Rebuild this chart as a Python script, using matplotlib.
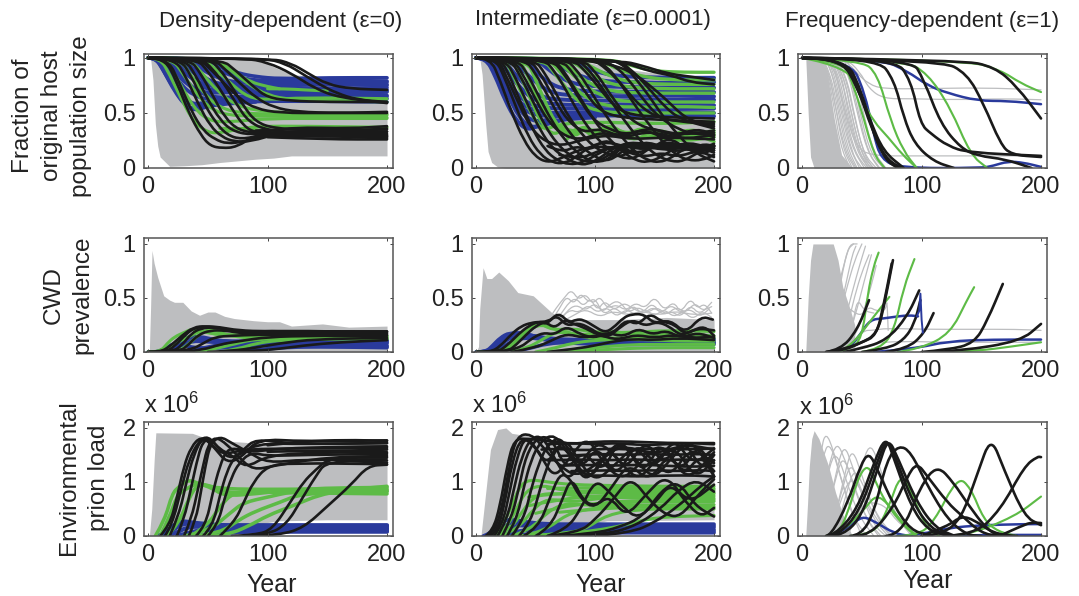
import matplotlib
matplotlib.use("Agg")
import matplotlib.pyplot as plt
from matplotlib.path import Path
from matplotlib.patches import PathPatch

plt.rcParams['font.family'] = ['Liberation Sans', 'DejaVu Sans']
plt.rcParams['mathtext.default'] = 'regular'

W, H = 1079, 596
GREY, BLUE, GREEN, BLACK = '#bdbec0', '#2a3a9c', '#5dbb46', '#1a1a1a'

XTICKS = [0, 100, 200]
YTICKS_FRAC = [0, 0.5, 1]
YTICKS_LOAD = [0, 1, 2]
TITLES = ['Density-dependent (ε=0)', 'Intermediate (ε=0.0001)', 'Frequency-dependent (ε=1)']
ROW_LABELS = ['Fraction of\noriginal host\npopulation size', 'CWD\nprevalence', 'Environmental\nprion load']

# === row 1: host population ===
GX_11 = [2, 4, 6, 8, 10, 18, 30, 45, 60, 80, 90, 105, 120, 150, 200]
GH_11 = [1, 1, 1, 1, 1, 1, 1, 1, 1, 1, 1, .92, .85, .82, .8]
GL_11 = [1, .8, .4, .2, .1, .015, .02, .03, .05, .07, .08, .09, .11, .11, .11]
BL_11 = [
    ([0, 6, 12, 20, 30, 38, 50, 70, 120, 200], [1, 1, .9, .75, .58, .52, .56, .6, .61, .6]),
    ([0, 8, 14, 24, 34, 44, 60, 90, 150, 200], [1, 1, .92, .74, .6, .56, .6, .62, .64, .63]),
    ([0, 10, 18, 28, 38, 50, 70, 110, 200], [1, 1, .9, .75, .66, .62, .65, .66, .65]),
    ([0, 12, 22, 32, 44, 60, 85, 130, 200], [1, 1, .88, .76, .69, .68, .7, .71, .7]),
    ([0, 16, 26, 38, 52, 70, 100, 150, 200], [1, 1, .9, .8, .74, .72, .73, .72, .73]),
    ([0, 22, 32, 46, 60, 80, 110, 160, 200], [1, 1, .92, .82, .76, .74, .75, .76, .75]),
    ([0, 30, 40, 52, 66, 85, 120, 170, 200], [1, 1, .93, .85, .79, .77, .78, .77, .78]),
    ([0, 38, 50, 64, 80, 100, 140, 200], [1, 1, .93, .86, .81, .79, .8, .79]),
    ([0, 46, 60, 76, 90, 110, 150, 200], [1, 1, .92, .86, .83, .81, .82, .82]),
    ([0, 28, 40, 56, 75, 100, 150, 200], [1, 1, .88, .76, .68, .66, .67, .66]),
    ([0, 24, 36, 50, 70, 100, 150, 200], [1, 1, .88, .76, .7, .69, .68, .69]),
    ([0, 50, 66, 80, 100, 130, 200], [1, 1, .88, .78, .76, .76, .76]),
    ([0, 7, 14, 22, 30, 36, 44, 60, 90], [1, 1, .86, .7, .58, .54, .55, .58, .6]),
    ([0, 9, 16, 24, 32, 40, 50, 70, 100], [1, 1, .88, .72, .6, .58, .6, .64, .64]),
    ([0, 14, 22, 30, 38, 48, 60, 90], [1, 1, .92, .82, .72, .66, .64, .63]),
    ([0, 18, 26, 34, 44, 56, 80], [1, 1, .94, .84, .74, .7, .69]),
    ([0, 34, 44, 56, 70, 90, 140, 200], [1, 1, .94, .84, .76, .72, .71, .71]),
]
GR_11 = [
    ([0, 10, 18, 28, 38, 50, 62, 78, 95, 130, 200], [1, 1, .85, .62, .42, .32, .32, .36, .38, .38, .37]),
    ([0, 14, 22, 32, 42, 54, 70, 100, 150, 200], [1, 1, .86, .66, .5, .42, .42, .45, .45, .45]),
    ([0, 20, 30, 40, 52, 66, 90, 130, 200], [1, 1, .84, .68, .54, .48, .47, .47, .46]),
    ([0, 26, 36, 48, 60, 76, 100, 150, 200], [1, 1, .84, .66, .55, .5, .49, .48, .48]),
    ([0, 34, 46, 58, 72, 90, 120, 170, 200], [1, 1, .85, .7, .58, .52, .5, .49, .49]),
    ([0, 46, 58, 70, 84, 100, 130, 200], [1, 1, .88, .76, .64, .62, .64, .63]),
    ([0, 56, 70, 84, 100, 120, 160, 200], [1, 1, .88, .76, .66, .62, .61, .6]),
    ([100, 115, 130, 150], [.72, .72, .71, .7]),
    ([0, 52, 62, 74, 86, 100, 110], [1, 1, .94, .86, .78, .74, .72]),
    ([60, 75, 90, 100, 115], [.36, .36, .35, .33, .36]),
]
BK_11 = [
    ([0, 14, 24, 34, 44, 52, 62, 74, 90, 110, 200], [1, 1, .78, .5, .3, .2, .18, .19, .3, .32, .3]),
    ([0, 16, 26, 36, 46, 56, 66, 80, 100, 140, 200], [1, 1, .78, .52, .34, .26, .22, .24, .3, .29, .28]),
    ([0, 22, 32, 42, 52, 62, 72, 86, 110, 150, 200], [1, 1, .82, .58, .38, .28, .24, .24, .32, .31, .33]),
    ([0, 26, 36, 46, 56, 66, 78, 95, 130, 200], [1, 1, .84, .6, .42, .3, .26, .3, .34, .35]),
    ([0, 30, 40, 50, 60, 70, 85, 105, 150, 200], [1, 1, .84, .62, .44, .34, .3, .33, .32, .36]),
    ([0, 34, 44, 54, 64, 76, 92, 120, 170, 200], [1, 1, .86, .66, .46, .34, .32, .37, .36, .38]),
    ([0, 40, 50, 60, 70, 80, 90, 110, 150, 200], [1, 1, .88, .72, .54, .38, .32, .31, .29, .27]),
    ([0, 44, 54, 64, 74, 84, 100, 140, 200], [1, 1, .9, .76, .58, .42, .34, .3, .29]),
    ([0, 50, 60, 70, 80, 90, 105, 140, 200], [1, 1, .9, .74, .56, .42, .36, .34, .33]),
    ([0, 42, 54, 66, 78, 90, 110, 150, 200], [1, 1, .88, .74, .62, .54, .5, .5, .5]),
    ([0, 54, 66, 78, 90, 105, 125, 160, 200], [1, 1, .88, .76, .64, .55, .51, .5, .51]),
    ([0, 96, 115, 130, 145, 158, 175, 200], [1, 1, .95, .85, .75, .68, .62, .6]),
    ([0, 102, 120, 134, 150, 170, 200], [1, 1, .95, .86, .76, .72, .71]),
    ([0, 80, 100, 120, 140, 160, 200], [1, 1, .96, .86, .72, .64, .59]),
    ([0, 60, 74, 88, 100, 120, 150, 200], [1, 1, .88, .74, .64, .61, .6, .6]),
    ([100, 140, 170, 200], [.3, .28, .3, .29]),
    ([90, 130, 165, 200], [.34, .36, .33, .31]),
    ([100, 150, 200], [.28, .26, .26]),
]

GX_12 = [3, 5, 8, 10, 13, 18, 25, 80, 110, 160, 200]
GH_12 = [1, 1, 1, 1, 1, 1, 1, 1, .92, .85, .82]
GL_12 = [1, .85, .4, .15, .05, .01, 0, 0, 0, 0, 0]
BL_12 = [
    ([0, 10, 18, 28, 40, 55, 75, 110, 150, 200], [1, 1, .85, .65, .52, .47, .47, .48, .47, .47]),
    ([0, 12, 20, 30, 42, 58, 80, 120, 160, 200], [1, 1, .85, .66, .55, .5, .5, .51, .5, .5]),
    ([0, 14, 22, 32, 44, 60, 85, 130, 200], [1, 1, .86, .7, .58, .54, .54, .53, .54]),
    ([0, 18, 26, 36, 48, 62, 90, 140, 200], [1, 1, .88, .74, .62, .58, .57, .58, .57]),
    ([0, 22, 32, 44, 56, 70, 100, 150, 200], [1, 1, .86, .72, .64, .62, .61, .62, .62]),
    ([0, 30, 40, 52, 64, 80, 110, 160, 200], [1, 1, .88, .76, .68, .66, .65, .66, .65]),
    ([0, 40, 50, 60, 72, 88, 120, 170, 200], [1, 1, .88, .78, .72, .7, .69, .7, .69]),
    ([0, 50, 62, 74, 88, 110, 150, 200], [1, 1, .88, .8, .75, .74, .73, .73]),
    ([0, 60, 74, 88, 105, 130, 170, 200], [1, 1, .9, .83, .79, .78, .77, .78]),
    ([0, 74, 90, 105, 125, 160, 200], [1, 1, .92, .86, .83, .82, .82]),
    ([0, 8, 16, 24, 34, 44, 54, 70, 100], [1, 1, .84, .62, .42, .34, .4, .44, .46]),
    ([0, 11, 18, 26, 36, 46, 60, 80], [1, 1, .88, .68, .46, .36, .4, .46]),
    ([0, 16, 24, 34, 44, 56, 70], [1, 1, .82, .56, .44, .42, .48]),
]
GR_12 = [
    ([0, 30, 38, 46, 54, 64, 72, 84, 92, 104, 116, 130, 150, 170, 200], [1, 1, .82, .62, .42, .3, .34, .28, .38, .28, .34, .25, .3, .24, .28]),
    ([0, 36, 44, 52, 60, 70, 80, 90, 100, 112, 124, 140, 160, 180, 200], [1, 1, .82, .62, .46, .36, .28, .36, .3, .38, .26, .34, .28, .36, .3]),
    ([0, 42, 50, 58, 66, 76, 88, 100, 115, 130, 150, 170, 200], [1, 1, .8, .6, .42, .3, .38, .26, .36, .3, .36, .27, .34]),
    ([0, 24, 32, 40, 48, 56, 70, 100, 150, 200], [1, 1, .82, .64, .46, .34, .4, .42, .4, .42]),
    ([0, 56, 66, 76, 86, 100, 120, 150, 200], [1, 1, .86, .72, .6, .52, .5, .5, .5]),
    ([0, 60, 70, 80, 92, 106, 130, 170, 200], [1, 1, .88, .76, .64, .57, .55, .56, .55]),
    ([0, 66, 78, 90, 104, 124, 160, 200], [1, 1, .88, .76, .66, .6, .6, .6]),
    ([0, 70, 82, 96, 112, 135, 170, 200], [1, 1, .88, .76, .7, .68, .68, .68]),
    ([0, 76, 90, 104, 122, 150, 200], [1, 1, .9, .8, .74, .72, .72]),
    ([0, 84, 100, 116, 134, 165, 200], [1, 1, .9, .82, .77, .76, .76]),
    ([0, 100, 118, 136, 160, 200], [1, 1, .9, .84, .8, .8]),
    ([0, 110, 130, 150, 175, 200], [1, 1, .93, .88, .87, .87]),
    ([70, 82, 94, 106, 120, 134, 150, 166, 186, 200], [.38, .32, .36, .28, .34, .24, .36, .3, .26, .32]),
    ([76, 88, 100, 112, 126, 142, 156, 176, 200], [.26, .4, .32, .4, .3, .38, .24, .34, .24]),
]
BK_12 = [
    ([0, 12, 20, 30, 40, 50, 60, 70, 85, 100, 120, 140, 160, 180, 200], [1, 1, .8, .5, .25, .1, .05, .08, .16, .2, .18, .2, .16, .2, .18]),
    ([0, 16, 24, 34, 44, 54, 64, 74, 84, 96, 110, 130, 150, 170, 200], [1, 1, .82, .54, .28, .12, .05, .04, .1, .2, .24, .18, .22, .17, .2]),
    ([0, 20, 28, 38, 48, 58, 68, 78, 90, 104, 120, 140, 165, 185, 200], [1, 1, .84, .58, .34, .16, .07, .03, .05, .14, .22, .16, .22, .14, .2]),
    ([0, 24, 34, 44, 54, 64, 74, 84, 94, 104, 118, 134, 150, 170, 190, 200], [1, 1, .8, .56, .34, .18, .1, .04, .03, .09, .2, .24, .18, .22, .15, .18]),
    ([0, 28, 38, 48, 58, 68, 78, 88, 98, 110, 122, 140, 160, 180, 200], [1, 1, .82, .6, .38, .22, .12, .07, .05, .1, .2, .22, .16, .22, .14]),
    ([0, 34, 44, 54, 64, 74, 84, 94, 104, 114, 126, 145, 165, 185, 200], [1, 1, .84, .62, .42, .26, .15, .07, .05, .1, .22, .18, .22, .14, .2]),
    ([0, 40, 50, 60, 70, 80, 90, 100, 110, 120, 132, 150, 170, 190, 200], [1, 1, .86, .66, .46, .3, .18, .1, .06, .12, .24, .2, .14, .22, .2]),
    ([0, 48, 58, 68, 78, 88, 98, 108, 118, 128, 140, 160, 180, 200], [1, 1, .86, .66, .46, .32, .2, .14, .1, .13, .25, .18, .24, .16]),
    ([0, 56, 66, 76, 86, 96, 106, 116, 126, 136, 148, 165, 185, 200], [1, 1, .88, .7, .5, .34, .22, .13, .08, .1, .2, .24, .16, .22]),
    ([0, 64, 74, 84, 94, 104, 114, 124, 134, 144, 156, 172, 190, 200], [1, 1, .88, .7, .52, .36, .24, .14, .07, .05, .1, .22, .14, .2]),
    ([0, 74, 84, 94, 104, 114, 124, 134, 144, 154, 164, 178, 200], [1, 1, .9, .74, .56, .4, .26, .14, .07, .05, .09, .2, .16]),
    ([0, 84, 94, 104, 114, 124, 134, 144, 154, 164, 174, 188, 200], [1, 1, .9, .76, .6, .44, .3, .18, .1, .06, .06, .15, .2]),
    ([0, 94, 108, 118, 128, 138, 148, 158, 168, 178, 190, 200], [1, 1, .94, .82, .66, .5, .36, .22, .12, .07, .07, .12]),
    ([0, 110, 125, 135, 145, 155, 165, 175, 185, 200], [1, 1, .93, .8, .66, .5, .36, .24, .13, .06]),
    ([0, 90, 110, 130, 145, 160, 175, 190, 200], [1, .99, .95, .88, .76, .62, .46, .4, .38]),
    ([0, 104, 125, 145, 165, 180, 200], [1, .99, .96, .88, .84, .78, .76]),
    ([0, 120, 140, 160, 180, 200], [1, .98, .93, .86, .83, .8]),
    ([0, 70, 82, 92, 104, 120, 150, 200], [1, 1, .86, .68, .52, .46, .44, .42]),
    ([0, 80, 92, 104, 116, 130, 160, 200], [1, 1, .88, .72, .56, .48, .46, .45]),
    ([0, 96, 110, 124, 136, 150, 170, 200], [1, 1, .9, .74, .58, .47, .42, .4]),
    ([0, 116, 130, 144, 158, 172, 200], [1, 1, .9, .74, .56, .44, .36]),
    ([60, 72, 84, 96, 108, 120, 134, 148, 162, 176, 190, 200], [.2, .14, .2, .16, .26, .2, .13, .18, .28, .18, .12, .18]),
    ([70, 86, 100, 114, 128, 142, 156, 170, 186, 200], [.12, .08, .14, .2, .14, .1, .14, .1, .16, .1]),
    ([0, 18, 26, 36, 46, 58, 72, 90, 110, 130, 160, 200], [1, 1, .82, .58, .36, .24, .2, .26, .3, .26, .28, .26]),
    ([0, 30, 40, 50, 62, 76, 90, 106, 124, 146, 172, 200], [1, 1, .84, .62, .4, .28, .26, .33, .27, .34, .26, .3]),
    ([0, 44, 54, 64, 76, 90, 104, 122, 140, 160, 182, 200], [1, 1, .86, .66, .44, .32, .36, .28, .36, .26, .34, .28]),
    ([0, 62, 74, 86, 98, 112, 128, 146, 166, 186, 200], [1, 1, .86, .64, .44, .35, .3, .37, .29, .36, .3]),
    ([0, 88, 100, 112, 124, 138, 154, 174, 200], [1, 1, .88, .68, .5, .38, .34, .3, .34]),
    ([0, 102, 118, 130, 142, 154, 170, 186, 200], [1, 1, .92, .78, .6, .46, .35, .3, .32]),
]

GX_13 = [3, 5, 7, 10, 15, 21, 27, 33, 42]
GH_13 = [1, 1, 1, 1, 1, .86, .44, .12, 0]
GL_13 = [1, .5, .1, 0, 0, 0, 0, 0, 0]
GL_LINES_13 = [
    ([14, 20, 26, 32, 40], [1, .92, .6, .2, 0]),
    ([16, 22, 28, 36, 44], [1, .9, .55, .15, 0]),
    ([18, 24, 30, 38, 46], [1, .92, .58, .18, 0]),
    ([20, 26, 34, 42, 50], [1, .9, .5, .12, 0]),
    ([22, 28, 36, 44, 54], [1, .92, .5, .14, 0]),
    ([24, 32, 40, 48, 58], [1, .88, .42, .12, 0]),
    ([26, 34, 42, 50, 60], [1, .88, .45, .12, 0]),
    ([28, 36, 44, 52, 62], [1, .86, .44, .12, 0]),
    ([30, 38, 44, 54, 64], [1, .88, .6, .16, 0]),
    ([34, 42, 50, 58, 68], [1, .84, .42, .12, 0]),
    ([15, 21, 27, 34, 42], [1, .9, .62, .18, 0]),
    ([17, 23, 29, 37, 45], [1, .88, .58, .16, 0]),
    ([19, 25, 32, 39, 48], [1, .88, .55, .2, 0]),
    ([21, 27, 33, 41, 52], [1, .9, .62, .2, 0]),
    ([23, 30, 37, 46, 56], [1, .88, .52, .14, 0]),
    ([36, 44, 52, 60, 70], [1, .86, .46, .14, 0]),
    ([25, 31, 38, 47, 55], [1, .92, .58, .16, 0]),
    ([27, 35, 41, 49, 57], [1, .84, .5, .15, 0]),
    ([29, 37, 43, 51, 59], [1, .84, .52, .14, 0]),
    ([32, 40, 46, 55, 65], [1, .84, .56, .14, 0]),
    ([0, 30, 40, 46, 56, 68, 100, 150, 200], [1, 1, .94, .86, .76, .72, .72, .73, .71]),
    ([0, 36, 48, 56, 68, 90, 130, 170, 200], [1, 1, .88, .72, .63, .63, .62, .63, .62]),
    ([0, 24, 32, 40, 46, 56, 100, 160, 200], [1, 1, .7, .35, .2, .11, .11, .11, .11]),
]
BL_13 = [
    ([0, 66, 88, 105, 122, 147, 172, 200], [1, .99, .88, .75, .68, .61, .61, .58]),
    ([0, 40, 52, 60, 66, 82, 150, 160, 172, 185, 200], [1, .98, .7, .3, .08, 0, 0, .02, .06, .05, .01]),
]
GR_13 = [
    ([0, 35, 41, 49, 60, 69], [1, .96, .8, .55, .12, 0]),
    ([0, 40, 50, 60, 72, 84, 96], [1, .92, .62, .42, .28, .12, 0]),
    ([0, 49, 63, 74, 85, 96], [1, .98, .86, .43, .15, 0]),
    ([0, 85, 105, 124, 141, 155], [1, .98, .86, .55, .12, 0]),
    ([0, 138, 166, 183, 200], [1, .98, .89, .77, .69]),
]
BK_13 = [
    ([0, 32, 46, 57, 68, 85], [1, 1, .74, .43, .15, 0]),
    ([0, 34, 47, 58, 69, 82], [1, 1, .72, .36, .1, 0]),
    ([0, 36, 49, 60, 70, 80], [1, 1, .72, .3, .07, 0]),
    ([0, 63, 77, 85, 94, 110, 127], [1, 1, .8, .46, .22, .06, 0]),
    ([0, 77, 91, 99, 108, 122, 139, 200], [1, 1, .8, .4, .31, .2, .14, .11]),
    ([0, 91, 102, 116, 133, 147, 170, 192], [1, 1, .8, .4, .18, .11, .08, 0]),
    ([0, 116, 138, 152, 166, 175, 200], [1, .98, .86, .58, .22, .12, .1]),
    ([0, 133, 161, 180, 200], [1, .98, .92, .74, .45]),
]

# === row 2: prevalence ===
GX_21 = [0, 1, 2, 3.2, 5, 8, 13, 18, 22, 29, 36, 43, 50, 56, 64, 72, 88, 100, 110, 120, 146, 168, 200]
GH_21 = [0, .02, .4, .94, .82, .69, .52, .48, .46, .46, .38, .34, .37, .37, .33, .31, .29, .28, .28, .24, .26, .23, .24]
BL_21 = [
    ([0, 12, 18, 24, 30, 40, 60, 100, 200], [0, 0, .03, .1, .14, .12, .1, .1, .11]),
    ([0, 16, 24, 32, 42, 60, 90, 130, 200], [0, 0, .06, .13, .15, .1, .08, .09, .1]),
    ([0, 18, 26, 34, 46, 70, 110, 200], [0, 0, .05, .1, .1, .08, .08, .08]),
    ([10, 18, 26, 36, 50, 80, 130, 200], [0, .02, .07, .1, .1, .07, .06, .06]),
    ([30, 44, 60, 80, 100, 140, 200], [0, .03, .07, .08, .06, .05, .04]),
    ([70, 90, 110, 140, 200], [0, .02, .04, .05, .05]),
    ([6, 14, 22, 32, 50, 80, 120, 200], [0, .02, .09, .05, .03, .05, .09, .09]),
]
GR_21 = [
    ([0, 10, 16, 22, 30, 38, 50, 70, 110, 200], [0, 0, .08, .14, .18, .22, .18, .14, .15, .15]),
    ([0, 14, 20, 26, 34, 44, 52, 64, 80, 130, 200], [0, 0, .05, .1, .14, .2, .17, .16, .16, .14, .14]),
    ([0, 24, 34, 42, 52, 70, 100, 200], [0, 0, .07, .16, .22, .14, .12, .13]),
    ([40, 50, 60, 74, 90, 130, 200], [0, .02, .04, .08, .12, .13, .12]),
    ([60, 76, 90, 110, 150, 200], [0, .03, .08, .11, .12, .12]),
]
BK_21 = [
    ([0, 10, 18, 28, 38, 48, 60, 75, 100, 200], [0, 0, .05, .15, .23, .24, .23, .2, .19, .19]),
    ([0, 14, 22, 32, 40, 50, 62, 78, 110, 200], [0, 0, .05, .17, .23, .23, .22, .18, .2, .18]),
    ([0, 20, 28, 36, 44, 56, 70, 90, 130, 200], [0, 0, .06, .17, .22, .23, .2, .18, .19, .19]),
    ([0, 26, 34, 42, 52, 64, 80, 110, 200], [0, 0, .07, .16, .2, .2, .17, .17, .17]),
    ([20, 36, 46, 56, 70, 90, 130, 200], [0, .02, .08, .14, .15, .16, .16, .16]),
    ([30, 46, 60, 76, 100, 140, 200], [0, .02, .07, .1, .14, .15, .15]),
    ([50, 70, 90, 110, 140, 200], [0, .01, .04, .08, .12, .13]),
    ([60, 90, 110, 130, 160, 200], [0, .01, .03, .06, .09, .11]),
]

GX_22 = [0, 2, 3, 5.8, 9, 13, 19, 27, 35, 48, 56, 64, 80, 120, 160, 200]
GH_22 = [0, .05, .4, .78, .68, .68, .74, .66, .55, .52, .44, .36, .3, .3, .32, .3]
GL_LINES_22 = [
    ([62, 68, 74, 80, 86, 92, 98, 104, 110, 118, 126, 134, 142, 150, 158, 166, 172, 180, 186, 192, 198], [.32, .42, .5, .58, .48, .54, .44, .52, .4, .44, .38, .46, .4, .52, .38, .47, .36, .5, .4, .45, .36]),
    ([64, 70, 76, 82, 88, 94, 100, 106, 112, 120, 128, 136, 144, 152, 160, 168, 176, 184, 190, 198], [.3, .4, .52, .44, .55, .46, .5, .36, .44, .48, .36, .42, .36, .42, .34, .42, .36, .46, .38, .42]),
    ([66, 72, 78, 84, 90, 96, 102, 108, 116, 124, 132, 140, 148, 156, 164, 172, 180, 188, 198], [.28, .36, .46, .5, .42, .5, .38, .48, .38, .46, .4, .36, .46, .34, .38, .32, .44, .34, .46]),
    ([70, 78, 86, 94, 102, 110, 118, 126, 134, 142, 150, 158, 166, 174, 182, 190, 198], [.3, .4, .36, .44, .36, .42, .32, .4, .34, .4, .33, .4, .32, .38, .3, .38, .32]),
    ([68, 76, 84, 92, 100, 108, 116, 124, 132, 140, 148, 156, 164, 172, 180, 188, 196], [.26, .38, .44, .38, .46, .34, .42, .34, .44, .34, .42, .36, .44, .36, .4, .32, .4]),
    ([72, 82, 92, 104, 114, 128, 138, 154, 168, 184, 198], [.28, .34, .4, .32, .38, .34, .38, .34, .38, .34, .36]),
]
BL_22 = [
    ([0, 8, 14, 20, 28, 40, 60, 90, 140, 200], [0, 0, .06, .13, .18, .17, .12, .1, .09, .1]),
    ([0, 10, 16, 24, 34, 50, 80, 110, 160, 200], [0, 0, .05, .13, .19, .14, .11, .12, .11, .12]),
    ([0, 12, 20, 30, 42, 60, 90, 120, 200], [0, 0, .07, .14, .17, .11, .09, .09, .09]),
    ([10, 20, 30, 44, 70, 100, 150, 200], [0, .03, .1, .14, .09, .07, .07, .07]),
    ([30, 44, 60, 80, 100, 140, 200], [0, .03, .08, .09, .08, .08, .08]),
]
GR_22 = [
    ([0, 20, 28, 36, 44, 52, 64, 80, 100, 130, 160, 200], [0, 0, .06, .14, .22, .28, .2, .22, .18, .18, .2, .19]),
    ([10, 26, 36, 44, 54, 70, 90, 110, 140, 170, 200], [0, .02, .1, .2, .26, .2, .15, .2, .15, .17, .15]),
    ([30, 44, 56, 70, 90, 120, 150, 200], [0, .04, .12, .2, .13, .13, .13, .13]),
    ([50, 64, 80, 100, 130, 170, 200], [0, .03, .08, .11, .12, .1, .1]),
    ([60, 80, 100, 130, 160, 200], [0, .02, .04, .07, .07, .07]),
    ([70, 90, 120, 150, 200], [0, .01, .03, .04, .04]),
]
BK_22 = [
    ([0, 12, 20, 30, 38, 46, 54, 60, 69, 78, 84, 90, 99, 108, 115, 124, 131, 141, 150, 163, 176, 189, 199], [0, 0, .05, .17, .24, .27, .28, .26, .37, .27, .3, .3, .24, .18, .22, .32, .35, .35, .26, .3, .17, .33, .3]),
    ([0, 18, 26, 36, 44, 52, 60, 68, 76, 86, 96, 104, 116, 126, 136, 146, 156, 166, 176, 186, 200], [0, 0, .06, .17, .24, .28, .28, .34, .24, .27, .22, .16, .18, .3, .25, .36, .28, .26, .16, .22, .2]),
    ([0, 26, 34, 42, 50, 58, 66, 74, 82, 92, 102, 112, 122, 132, 142, 152, 162, 172, 182, 192, 200], [0, 0, .07, .16, .24, .28, .22, .3, .26, .22, .16, .14, .24, .3, .24, .28, .24, .15, .2, .24, .15]),
    ([20, 36, 46, 56, 66, 76, 88, 100, 110, 124, 136, 148, 160, 172, 186, 200], [0, .03, .12, .18, .16, .24, .16, .13, .18, .14, .22, .16, .2, .13, .18, .13]),
    ([30, 50, 62, 76, 90, 104, 118, 134, 150, 166, 180, 200], [0, .04, .1, .17, .13, .16, .11, .16, .13, .16, .13, .14]),
    ([60, 84, 100, 116, 132, 150, 170, 200], [0, .03, .06, .1, .12, .11, .13, .11]),
]

GX_23 = [3, 5, 7, 9, 26, 30, 34, 40, 44]
GH_23 = [0, .5, .85, 1, 1, .85, .6, .4, .25]
GL_LINES_23 = [
    ([26, 30, 36, 40, 46], [.2, .6, .85, 1, 1]),
    ([28, 32, 38, 42, 45], [.1, .4, .7, .9, .98]),
    ([30, 36, 42, 48, 53], [.08, .3, .56, .8, .98]),
    ([34, 40, 46, 52, 58], [.06, .18, .4, .66, .9]),
    ([38, 46, 52, 58, 62], [.04, .18, .4, .62, .8]),
    ([30, 38, 44, 50, 56, 62, 70, 71, 72], [.1, .42, .36, .34, .42, .38, .38, .5, .2]),
    ([40, 50, 60, 70, 100, 140, 180, 200], [.06, .2, .2, .22, .21, .21, .21, .2]),
    ([44, 60, 80, 120, 160, 200], [.03, .08, .1, .09, .09, .09]),
    ([24, 30, 34, 38, 43], [.1, .5, .75, .95, 1]),
    ([28, 34, 38, 44, 50], [.06, .45, .62, .85, 1]),
    ([32, 38, 44, 50, 56], [.05, .24, .52, .74, .9]),
    ([36, 42, 46, 52, 60], [.05, .22, .5, .38, .36]),
]
BL_23 = [
    ([30, 40, 49, 57, 68, 80, 90, 97], [0, .04, .17, .3, .31, .33, .34, .33]),
    ([60, 94, 122, 160, 200], [0, .03, .1, .115, .115]),
]
# the sharp spike at the end of one blue run is kept unsmoothed
SPIKE_X = [96, 98, 99, 100, 101]
SPIKE_Y = [.33, .38, .54, .3, .18]
GR_23 = [
    ([30, 40, 50, 55, 60, 64], [0, .03, .12, .55, .8, .92]),
    ([30, 41, 60, 73], [0, .05, .33, .51]),
    ([50, 66, 77, 85, 94], [0, .03, .2, .6, .86]),
    ([80, 99, 124, 138, 144], [0, .03, .17, .48, .6]),
    ([120, 147, 175, 200], [0, .01, .05, .09]),
]
BK_23 = [
    ([20, 32, 46, 56], [0, .02, .2, .48]),
    ([20, 32, 49, 63, 69, 76], [0, .02, .08, .17, .45, .85]),
    ([25, 36, 50, 62, 68, 75], [0, .02, .09, .15, .42, .82]),
    ([35, 49, 71, 88, 98], [0, .03, .11, .33, .57]),
    ([50, 71, 85, 94, 99], [0, .03, .11, .26, .48]),
    ([70, 88, 102, 110], [0, .03, .17, .36]),
    ([100, 122, 144, 155, 168], [0, .02, .08, .29, .63]),
    ([110, 133, 183, 200], [0, .01, .1, .26]),
]

# === row 3: prion load ===
GX_31 = [1, 3, 5, 6.4, 37, 50, 70, 90, 100, 110, 150, 200]
GH_31 = [0, .5, 1.4, 1.91, 1.9, 1.8, 1.75, 1.72, 1.7, 1.7, 1.7, 1.7]
GL_31 = [0, 0, 0, 0, 0, 0, 0, .2, .25, .28, .3, .3]
BL_31 = [
    ([8, 14, 20, 28, 36, 50, 60, 80, 130, 200], [0, .06, .18, .28, .25, .22, .2, .2, .2, .2]),
    ([12, 18, 26, 34, 48, 70, 100, 150, 200], [0, .06, .2, .24, .2, .17, .17, .17, .17]),
    ([16, 24, 32, 44, 66, 100, 160, 200], [0, .06, .16, .18, .14, .14, .14, .14]),
    ([24, 34, 46, 70, 110, 170, 200], [0, .06, .12, .11, .11, .11, .11]),
    ([40, 56, 76, 110, 170, 200], [0, .04, .08, .08, .08, .08]),
]
GR_31 = [
    ([6, 14, 20, 26, 34, 44, 60, 90, 140, 200], [0, .3, .78, .92, 1.05, .95, .88, .86, .87, .87]),
    ([10, 18, 24, 32, 42, 56, 70, 100, 150, 200], [0, .35, .75, .88, .98, .9, .78, .84, .84, .83]),
    ([16, 26, 34, 42, 54, 64, 90, 130, 200], [0, .25, .7, .98, .88, .74, .78, .88, .9]),
    ([36, 50, 60, 72, 90, 120, 200], [0, .2, .55, .82, .82, .8, .78]),
    ([30, 50, 70, 80, 100, 120, 150, 200], [0, .08, .45, .62, .72, .82, .86, .85]),
    ([40, 60, 76, 90, 110, 130, 200], [0, .05, .3, .46, .62, .8, .82]),
    ([50, 66, 84, 100, 120, 150, 200], [0, .02, .18, .38, .55, .82, .92]),
]
BK_31 = [
    ([10, 18, 24, 30, 36, 44, 52, 62, 80, 110, 200], [0, .2, .7, 1.3, 1.65, 1.84, 1.72, 1.5, 1.6, 1.62, 1.63]),
    ([14, 20, 28, 34, 42, 50, 60, 70, 90, 130, 200], [0, .2, .9, 1.4, 1.75, 1.86, 1.6, 1.4, 1.72, 1.7, 1.72]),
    ([18, 26, 32, 38, 46, 56, 66, 78, 92, 130, 200], [0, .4, 1.0, 1.5, 1.85, 1.62, 1.35, 1.45, 1.8, 1.75, 1.77]),
    ([24, 30, 36, 42, 46, 52, 60, 70, 82, 100, 150, 200], [0, .3, .9, 1.5, 1.75, 1.8, 1.6, 1.5, 1.25, 1.5, 1.55, 1.55]),
    ([30, 36, 42, 46, 50, 56, 66, 76, 88, 105, 150, 200], [0, .3, .9, 1.3, 1.68, 1.84, 1.7, 1.45, 1.22, 1.3, 1.46, 1.48]),
    ([34, 40, 44, 48, 52, 60, 70, 84, 100, 130, 200], [0, .3, .8, 1.3, 1.7, 1.85, 1.72, 1.55, 1.35, 1.42, 1.4]),
    ([40, 48, 54, 60, 66, 74, 86, 110, 160, 200], [0, .18, .8, 1.3, 1.6, 1.62, 1.55, 1.62, 1.65, 1.66]),
    ([46, 54, 60, 66, 72, 80, 90, 120, 200], [0, .18, .75, 1.2, 1.45, 1.6, 1.8, 1.7, 1.72]),
    ([50, 58, 64, 70, 76, 86, 100, 130, 200], [0, .2, .7, 1.1, 1.35, 1.55, 1.48, 1.5, 1.52]),
    ([60, 72, 80, 88, 100, 120, 200], [0, .25, .62, 1.0, 1.3, 1.35, 1.33]),
    ([70, 90, 104, 120, 130, 140, 152, 200], [0, .02, .12, .66, 1.0, 1.22, 1.45, 1.45]),
    ([80, 100, 116, 128, 140, 150, 200], [0, .02, .22, .66, 1.1, 1.4, 1.36]),
    ([90, 110, 130, 150, 170, 184, 200], [0, .02, .15, .55, .95, 1.3, 1.32]),
    ([100, 130, 165, 200], [1.68, 1.75, 1.78, 1.76]),
    ([100, 140, 170, 200], [1.56, 1.58, 1.58, 1.6]),
]

GX_32 = [2, 4, 8, 12, 18, 25, 30, 60, 70, 90, 110, 200]
GH_32 = [0, 0, .8, 1.6, 1.97, 2.0, 1.9, 1.8, 1.75, 1.7, 1.7, 1.7]
GL_32 = [0, 0, 0, 0, 0, 0, 0, 0, 0, .2, .28, .3]
BL_32 = [
    ([6, 12, 18, 24, 32, 42, 60, 80, 130, 200], [0, .05, .18, .3, .3, .26, .22, .22, .22, .22]),
    ([10, 16, 22, 30, 40, 60, 90, 140, 200], [0, .04, .16, .26, .24, .18, .19, .19, .19]),
    ([14, 22, 30, 40, 60, 90, 150, 200], [0, .06, .18, .2, .15, .16, .16, .16]),
    ([20, 30, 42, 70, 110, 170, 200], [0, .06, .12, .12, .12, .12, .12]),
    ([30, 46, 70, 110, 170, 200], [0, .05, .09, .09, .09, .09]),
    ([50, 76, 110, 170, 200], [0, .05, .06, .06, .06]),
]
GR_32 = [
    ([10, 20, 30, 36, 44, 60, 80, 120, 160, 200], [0, .1, .55, .9, 1.05, 1.0, .95, .93, .92, .92]),
    ([14, 24, 34, 42, 56, 76, 110, 150, 200], [0, .1, .5, .85, .95, .82, .85, .86, .85]),
    ([18, 30, 40, 50, 66, 90, 130, 170, 200], [0, .15, .5, .75, .8, .72, .78, .78, .78]),
    ([22, 36, 48, 60, 80, 110, 150, 200], [0, .15, .5, .7, .62, .72, .7, .7]),
    ([30, 46, 60, 76, 100, 130, 170, 200], [0, .12, .45, .62, .55, .64, .62, .64]),
    ([40, 58, 76, 94, 120, 160, 200], [0, .1, .4, .5, .58, .56, .58]),
    ([50, 70, 90, 110, 140, 170, 200], [0, .05, .1, .4, .5, .5, .5]),
    ([30, 70, 100, 125, 150, 200], [0, .03, .1, .2, .35, .38]),
    ([60, 90, 120, 160, 200], [.88, .9, .88, .88, .88]),
    ([44, 70, 100, 140, 200], [.72, .8, .8, .82, .8]),
    ([44, 70, 100, 140, 200], [.56, .68, .74, .74, .74]),
    ([50, 76, 100, 140, 200], [.42, .56, .6, .67, .67]),
    ([70, 100, 140, 200], [.44, .5, .54, .54]),
]
BK_32 = [
    ([8, 14, 20, 26, 32, 44, 60, 80, 100, 130, 160, 200], [0, .1, .55, 1.3, 1.8, 1.8, 1.76, 1.7, 1.75, 1.75, 1.72, 1.72]),
    ([10, 16, 22, 28, 34, 46, 58, 70, 84, 100, 120, 150, 175, 200], [0, .12, .55, 1.3, 1.85, 1.9, 1.6, 1.3, 1.1, 1.3, 1.7, 1.5, 1.7, 1.6]),
    ([12, 18, 24, 30, 38, 50, 60, 74, 86, 100, 116, 134, 150, 166, 182, 200], [0, .1, .6, 1.35, 1.85, 1.65, 1.3, 1.85, 1.4, 1.0, 1.3, 1.7, 1.2, 1.85, 1.3, 1.62]),
    ([15, 22, 28, 34, 42, 54, 66, 80, 94, 108, 124, 140, 156, 174, 188, 200], [0, .2, .8, 1.45, 1.88, 1.5, 1.05, 1.5, 1.85, 1.3, 1.03, 1.4, 1.75, 1.1, 1.5, 1.2]),
    ([18, 26, 32, 38, 46, 56, 68, 78, 92, 104, 118, 136, 152, 168, 184, 200], [0, .3, .9, 1.45, 1.82, 1.85, 1.35, 1.0, 1.5, 1.75, 1.45, 1.0, 1.45, 1.65, 1.05, 1.4]),
    ([22, 30, 36, 42, 52, 64, 76, 90, 106, 120, 136, 150, 166, 182, 200], [0, .35, .9, 1.5, 1.85, 1.8, 1.2, 1.6, 1.15, 1.8, 1.35, 1.05, 1.5, 1.8, 1.1]),
    ([26, 34, 40, 46, 54, 66, 80, 96, 112, 126, 142, 158, 174, 190, 200], [0, .3, .9, 1.4, 1.75, 1.9, 1.45, 1.0, 1.65, 1.2, 1.8, 1.3, 1.82, 1.2, 1.5]),
    ([30, 40, 46, 52, 60, 72, 88, 102, 118, 134, 150, 164, 180, 200], [0, .3, .85, 1.3, 1.7, 1.85, 1.2, 1.7, 1.05, 1.75, 1.35, 1.1, 1.65, 1.35]),
    ([36, 46, 54, 60, 68, 80, 92, 108, 124, 140, 156, 172, 188, 200], [0, .25, .9, 1.3, 1.72, 1.5, .95, 1.5, 1.8, 1.1, 1.78, 1.15, 1.75, 1.1]),
    ([40, 52, 62, 70, 78, 88, 100, 114, 128, 146, 162, 178, 200], [0, .15, .7, 1.15, 1.1, .68, .5, .9, 1.35, 1.0, 1.55, 1.0, 1.55]),
    ([50, 62, 72, 80, 90, 100, 112, 126, 142, 160, 178, 200], [0, .15, .65, 1.1, .65, .55, .75, .35, .75, 1.15, .58, .95]),
    ([60, 76, 88, 100, 112, 124, 136, 150, 164, 180, 190, 200], [0, .12, .5, 1.05, .82, .52, .32, .6, 1.0, .52, .36, .52]),
    ([60, 86, 100, 116, 130, 146, 160, 172, 186, 200], [0, .06, .3, .7, 1.1, .65, .38, .36, .75, 1.05]),
    ([70, 100, 120, 140, 156, 170, 184, 200], [0, .05, .16, .35, .85, 1.02, .56, .36]),
    ([80, 110, 135, 155, 170, 185, 200], [0, .03, .2, .5, .85, 1.05, .82]),
    ([100, 130, 150, 170, 190, 200], [0, .06, .25, .55, .95, 1.1]),
    ([60, 80, 100, 120, 140, 160, 180, 200], [1.7, 1.72, 1.7, 1.72, 1.68, 1.7, 1.72, 1.7]),
    ([55, 74, 90, 110, 130, 150, 175, 200], [1.6, 1.62, 1.58, 1.62, 1.6, 1.62, 1.6, 1.62]),
    ([70, 90, 105, 125, 145, 165, 185, 200], [1.48, 1.5, 1.52, 1.5, 1.52, 1.5, 1.52, 1.5]),
    ([60, 85, 110, 130, 155, 175, 200], [1.4, 1.42, 1.4, 1.42, 1.4, 1.42, 1.4]),
    ([70, 90, 115, 140, 160, 180, 200], [1.3, 1.32, 1.3, 1.32, 1.3, 1.28, 1.3]),
    ([80, 105, 125, 150, 170, 190, 200], [1.2, 1.22, 1.2, 1.22, 1.2, 1.22, 1.2]),
    ([90, 115, 135, 160, 185, 200], [1.12, 1.12, 1.1, 1.12, 1.12, 1.1]),
]

GX_33 = [3, 4.5, 6, 8, 10, 14, 18, 22, 28, 34, 42]
GH_33 = [0, .6, 1.3, 1.8, 1.95, 1.8, 1.55, 1.3, .8, .4, 0]
GL_33 = [0, 0, 0, 0, 0, 0, 0, 0, 0, 0, 0]
GL_LINES_33 = [
    ([10, 16, 20, 26, 34, 44, 54], [.6, 1.65, 1.92, 1.6, .95, .3, 0]),
    ([14, 22, 29, 36, 44, 54, 64], [.4, 1.3, 1.76, 1.4, .9, .3, 0]),
    ([20, 28, 35, 42, 50, 60, 70], [.3, 1.15, 1.72, 1.3, .75, .2, 0]),
    ([26, 36, 42, 50, 58, 68, 76], [.2, 1.2, 1.64, 1.12, .6, .15, 0]),
    ([30, 38, 44, 52, 60, 70, 80], [.2, .9, 1.25, .9, .5, .15, 0]),
    ([30, 42, 50, 56, 62, 70, 80, 92], [.02, .6, 1.3, 1.7, 1.5, .9, .3, 0]),
    ([40, 50, 60, 70, 82, 100], [.1, .62, .62, .55, .2, 0]),
    ([12, 18, 24, 32, 40, 50], [.8, 1.6, 1.7, 1.1, .5, 0]),
    ([16, 24, 30, 38, 48, 60], [.6, 1.45, 1.5, .95, .35, 0]),
    ([22, 30, 36, 44, 54, 66], [.5, 1.3, 1.45, .85, .3, 0]),
    ([28, 36, 42, 50, 60, 72], [.4, 1.1, 1.35, .8, .3, 0]),
    ([24, 34, 42, 52, 62, 74], [.1, .8, 1.1, .75, .3, 0]),
]
BL_33 = [
    ([25, 35, 45, 52, 62, 77, 90], [0, .11, .28, .36, .25, .05, 0]),
    ([80, 100, 122, 150, 186, 200], [0, .03, .15, .2, .22, .22]),
    ([130, 160, 200], [.01, .02, .02]),
]
GR_33 = [
    ([20, 29, 38, 46, 55, 63, 72, 83, 95], [0, .02, .4, 1.04, 1.35, .92, .55, .24, 0]),
    ([20, 34, 46, 54, 62, 72, 84, 96], [0, .1, .35, .55, .76, .6, .24, 0]),
    ([40, 60, 72, 83, 94, 105, 115], [0, .02, .5, 1.2, .67, .11, 0]),
    ([80, 96, 110, 130, 141, 152, 164, 180], [0, .01, .24, 1.1, .9, .3, .08, 0]),
    ([120, 138, 178, 200], [0, .01, .36, .73]),
]
BK_33 = [
    ([20, 24, 38, 49, 56, 63, 77, 91, 105], [0, .01, .6, 1.32, 1.55, 1.23, .55, .11, .02]),
    ([20, 27, 46, 60, 70, 77, 91, 105, 122], [0, .01, .48, 1.35, 1.86, 1.42, .55, .11, 0]),
    ([22, 30, 48, 62, 71, 79, 93, 108, 124], [0, .01, .45, 1.32, 1.84, 1.4, .6, .13, 0]),
    ([24, 34, 50, 64, 72, 80, 96, 112, 128], [0, .01, .36, 1.3, 1.82, 1.45, .62, .14, 0]),
    ([40, 49, 60, 71, 81, 91, 105, 122, 138, 150], [0, .01, .42, 1.42, 1.68, 1.56, .92, .3, .02, 0]),
    ([45, 57, 77, 88, 96, 105, 122, 133, 150, 165], [0, .01, .55, 1.1, 1.36, 1.1, .61, .39, .05, 0]),
    ([70, 83, 99, 113, 127, 138, 155, 166, 180], [0, .02, .92, 1.32, .98, .61, .11, 0, 0]),
    ([100, 116, 133, 147, 158, 169, 186, 200], [0, .02, .3, 1.17, 1.85, 1.23, .36, .2]),
    ([120, 144, 166, 186, 197, 200], [0, .02, .48, 1.29, 1.47, 1.46]),
    ([100, 122, 133, 144, 160, 178], [0, .18, .37, .3, .05, 0]),
    ([165, 185, 192, 200], [0, .2, .25, .24]),
]

GREY_X = [GX_11, GX_12, GX_13, GX_21, GX_22, GX_23, GX_31, GX_32, GX_33]
GREY_HI = [GH_11, GH_12, GH_13, GH_21, GH_22, GH_23, GH_31, GH_32, GH_33]
GREY_LO = [GL_11, GL_12, GL_13, None, None, None, GL_31, GL_32, GL_33]
GREY_LINES = [[], [], GL_LINES_13, [], GL_LINES_22, GL_LINES_23, [], [], GL_LINES_33]
BLUE_LINES = [BL_11, BL_12, BL_13, BL_21, BL_22, BL_23, BL_31, BL_32, BL_33]
GREEN_LINES = [GR_11, GR_12, GR_13, GR_21, GR_22, GR_23, GR_31, GR_32, GR_33]
BLACK_LINES = [BK_11, BK_12, BK_13, BK_21, BK_22, BK_23, BK_31, BK_32, BK_33]

# axes boxes in pixels
COL_X = [(144, 393), (472, 720), (798, 1047)]
ROW_Y = [(54, 168), (238, 352), (422, 536)]
YLIM = [(0, 1.036), (0, 1.055), (0, 2.11)]
# thin lines for sparse panels, thick ones where the original is a dense bundle
LW_BUNDLE = [[2.6, 2.8, 1.8], [2.6, 2.6, 1.8], [3.0, 2.6, 1.8]]


def draw(ax, curves, color, lw):
    # rounded corners between the read points, the points stay as read
    for xs, ys in curves:
        verts = [(xs[0], ys[0])]
        codes = [Path.MOVETO]
        for k in range(1, len(xs) - 1):
            verts.append((xs[k], ys[k]))
            verts.append(((xs[k] + xs[k + 1]) / 2, (ys[k] + ys[k + 1]) / 2))
            codes += [Path.CURVE3, Path.CURVE3]
        verts.append((xs[-1], ys[-1]))
        codes.append(Path.LINETO)
        ax.add_patch(PathPatch(Path(verts, codes), fill=False, edgecolor=color, lw=lw,
                               capstyle='round', joinstyle='round'))


fig = plt.figure(figsize=(W / 100, H / 100), dpi=100)
for r in range(3):
    for c in range(3):
        x0, x1 = COL_X[c]
        y0, y1 = ROW_Y[r]
        ax = fig.add_axes([x0 / W, 1 - y1 / H, (x1 - x0) / W, (y1 - y0) / H])
        i = r * 3 + c
        lo = GREY_LO[i] if GREY_LO[i] is not None else 0
        ax.fill_between(GREY_X[i], lo, GREY_HI[i], color=GREY, lw=0)
        draw(ax, GREY_LINES[i], GREY, 0.9)
        lw = LW_BUNDLE[r][c]
        draw(ax, BLUE_LINES[i], BLUE, lw)
        if i == 5:
            ax.plot(SPIKE_X, SPIKE_Y, color=BLUE, lw=1.4)
        draw(ax, GREEN_LINES[i], GREEN, lw * 0.85)
        draw(ax, BLACK_LINES[i], BLACK, 1.9)
        ax.set_xlim(-3.5, 205)
        ax.set_ylim(*YLIM[r])
        ax.set_xticks(XTICKS)
        ax.set_yticks(YTICKS_LOAD if r == 2 else YTICKS_FRAC)
        ax.set_yticklabels(['0', '1', '2'] if r == 2 else ['0', '0.5', '1'])
        ax.tick_params(direction='in', length=2, width=0.7, color='#444444', top=True, right=True,
                       labelsize=17, labelcolor='#222222', pad=6)
        for s in ax.spines.values():
            s.set_linewidth(1.1)
            s.set_edgecolor('#555555')


def label(px, py, s, **kw):
    fig.text(px / W, 1 - py / H, s, ha='center', va='center', color='#222222', **kw)


label(281, 22, TITLES[0], fontsize=16)
label(593, 20, TITLES[1], fontsize=16)
label(922, 22, TITLES[2], fontsize=16)
label(52, 116, ROW_LABELS[0], fontsize=17.5, rotation=90, linespacing=1.44)
label(68, 295, ROW_LABELS[1], fontsize=17.5, rotation=90, linespacing=1.44)
label(84, 478, ROW_LABELS[2], fontsize=17.5, rotation=90, linespacing=1.44)
for px, py in [(172, 405), (500, 405), (827, 407)]:
    label(px, py, 'x 10$^{6}$', fontsize=17)
for px, py in [(272, 585), (601, 585), (928, 581)]:
    label(px, py, 'Year', fontsize=18)

fig.savefig('out.png', dpi=100)
